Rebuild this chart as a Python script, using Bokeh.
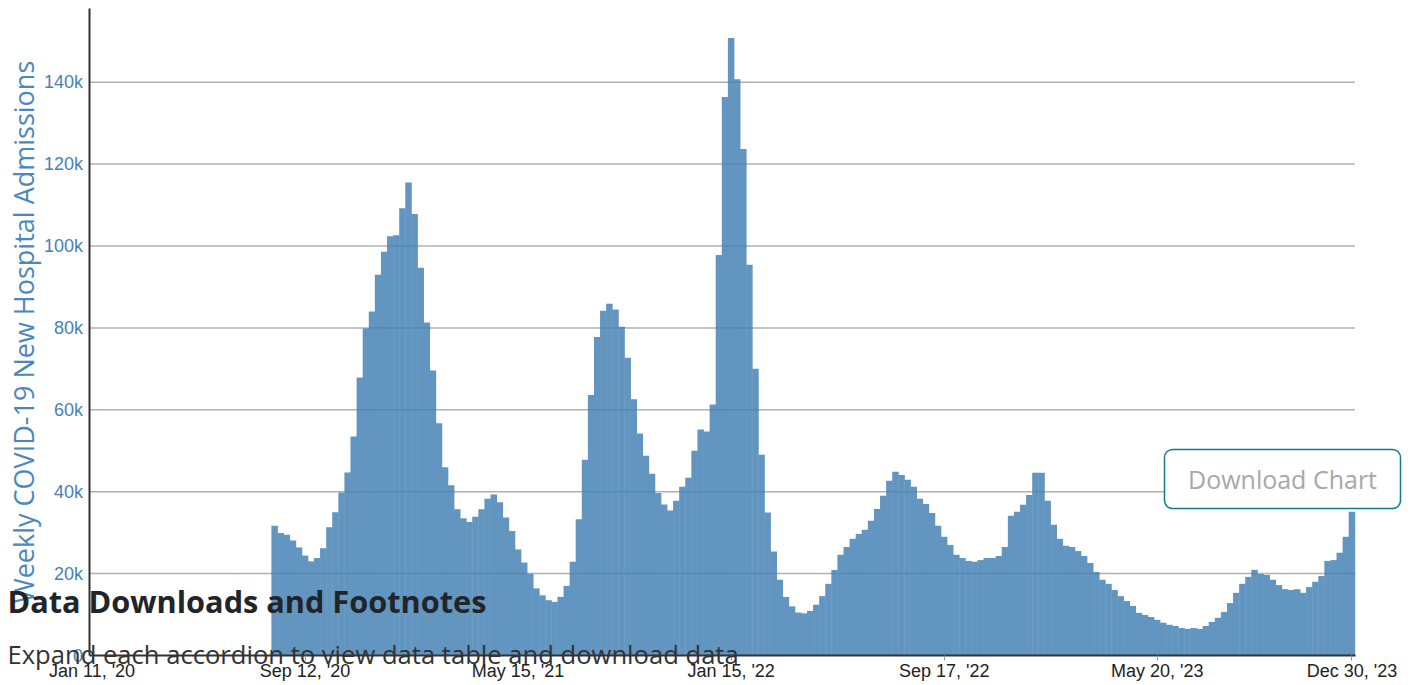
import pandas as pd
from bokeh.plotting import figure
from bokeh.models import (ColumnDataSource, Range1d, FixedTicker, DatetimeTickFormatter,
                          Label, BoxAnnotation)
from bokeh.embed import file_html
from bokeh.resources import INLINE

# ---- data (weekly new hospital admissions, thousands) ----
first_week = "2020-08-08"
last_week = "2023-12-30"
admissions_k = [
    31.7, 29.9, 29.5, 28.1, 26.4, 24.4, 23.0, 23.8, 26.2, 31.3,
    35.0, 39.8, 44.7, 53.5, 67.9, 79.9, 84.0, 93.0, 98.6, 102.4,
    102.6, 109.2, 115.5, 107.8, 94.7, 81.3, 69.6, 56.7, 46.0, 41.6,
    35.7, 33.5, 32.6, 33.9, 35.7, 38.3, 39.3, 37.4, 33.7, 30.4,
    25.9, 22.7, 20.0, 16.4, 14.7, 13.5, 13.1, 14.3, 17.0, 22.9,
    33.3, 47.8, 63.6, 77.8, 84.2, 85.9, 84.5, 80.3, 72.7, 62.6,
    54.2, 48.8, 44.4, 39.7, 36.9, 35.4, 37.8, 41.2, 43.4, 50.0,
    55.2, 54.7, 61.3, 97.8, 136.4, 150.8, 140.7, 123.7, 95.4, 70.0,
    49.0, 34.9, 25.4, 18.5, 14.3, 12.0, 10.5, 10.3, 10.9, 12.4,
    14.5, 17.5, 20.9, 24.6, 26.5, 28.5, 29.7, 30.7, 32.9, 35.8,
    39.0, 42.7, 44.9, 44.1, 42.9, 41.2, 38.3, 37.0, 34.8, 31.7,
    29.0, 27.0, 24.6, 23.8, 23.1, 22.9, 23.3, 23.8, 23.8, 24.3,
    26.5, 34.1, 35.1, 36.8, 39.2, 44.6, 44.6, 37.8, 31.9, 28.5,
    26.8, 26.5, 25.5, 24.3, 22.6, 20.4, 18.5, 17.5, 16.0, 14.5,
    13.3, 12.1, 10.4, 9.9, 9.4, 8.7, 8.0, 7.5, 7.2, 6.7,
    6.5, 6.7, 6.5, 7.2, 8.2, 9.2, 10.6, 12.8, 15.3, 17.5,
    19.2, 20.9, 19.9, 19.7, 18.5, 17.2, 16.2, 16.0, 16.2, 15.3,
    16.7, 18.0, 19.4, 23.1, 23.3, 25.1, 29.0, 35.1,
]
axis_start = "2020-01-11"
axis_end = "2023-12-30"
tick_dates = ["2020-01-11", "2020-09-12", "2021-05-15", "2022-01-15",
              "2022-09-17", "2023-05-20", "2023-12-30"]
y_ticks = [0, 20000, 40000, 60000, 80000, 100000, 120000, 140000]
y_tick_labels = ["0", "20k", "40k", "60k", "80k", "100k", "120k", "140k"]
y_max = 158000
y_title = "Weekly COVID-19 New Hospital Admissions"

week_ending = pd.date_range(first_week, last_week, freq="7D")
admissions = [v * 1000 for v in admissions_k]
source = ColumnDataSource(dict(week=week_ending, admissions=admissions))

# ---- layout: the frame spans the whole canvas, axes are pinned inside it ----
W, H = 1406, 684
plot_left, plot_right, plot_top, plot_bottom = 88.5, 1354.5, 8.0, 655.0

ms_day = 24 * 3600 * 1000
x_lo = pd.Timestamp(axis_start).value / 1e6 - 3.5 * ms_day
x_hi = pd.Timestamp(axis_end).value / 1e6 + 3.5 * ms_day
ms_per_px = (x_hi - x_lo) / (plot_right - plot_left)
val_per_px = y_max / (plot_bottom - plot_top)

p = figure(width=W, height=H, x_axis_type="datetime",
           output_backend="svg", toolbar_location=None,
           x_range=Range1d(x_lo - plot_left * ms_per_px,
                           x_hi + (W - plot_right) * ms_per_px),
           y_range=Range1d(-(H - plot_bottom) * val_per_px,
                           y_max + plot_top * val_per_px),
           min_border=0, min_border_left=0, min_border_right=0,
           min_border_top=0, min_border_bottom=0)
p.outline_line_color = None
p.background_fill_color = "white"
p.border_fill_color = "white"
p.xgrid.visible = False
p.ygrid.visible = False

bar_color = "#6295bf"          # steelblue at 85% on white
grid_color = "#b0b0b0"
grid_in_bar_color = "#5689b3"  # grid line seen through a bar

# horizontal grid lines across the plot area
grid_y = y_ticks[1:]
p.segment(x0=[x_lo] * len(grid_y), x1=[x_hi] * len(grid_y), y0=grid_y, y1=grid_y,
          line_color=grid_color, line_width=1.5, level="underlay")

# bars (slightly widened so that neighbours touch without seams)
p.vbar(x="week", top="admissions", width=7.5 * ms_day, source=source,
       fill_color=bar_color, line_color=None)

# grid lines showing through the bars
half = pd.Timedelta(days=3.5)
gx0, gx1, gy = [], [], []
for wk, val in zip(week_ending, admissions):
    for g in grid_y:
        if val > g:
            gx0.append(wk - half)
            gx1.append(wk + half)
            gy.append(g)
p.segment(x0=gx0, x1=gx1, y0=gy, y1=gy, line_color=grid_in_bar_color, line_width=1.5)

# x axis
tick_ms = [pd.Timestamp(d).value // 10**6 for d in tick_dates]
xa = p.xaxis[0]
xa.fixed_location = 0
xa.bounds = (x_lo, x_hi)
xa.ticker = FixedTicker(ticks=tick_ms)
fmt = "%b %d, '%y"
xa.formatter = DatetimeTickFormatter(
    microseconds=fmt, milliseconds=fmt, seconds=fmt, minsec=fmt, minutes=fmt,
    hourmin=fmt, hours=fmt, days=fmt, months=fmt, years=fmt)
xa.axis_line_color = "#333333"
xa.axis_line_width = 2
xa.major_tick_line_color = "#999999"
xa.major_tick_out = 5
xa.major_tick_in = 0
xa.minor_tick_line_color = None
xa.major_label_standoff = 0
xa.major_label_text_font = "Liberation Sans"
xa.major_label_text_font_size = "18px"
xa.major_label_text_color = "#222222"

# y axis
ya = p.yaxis[0]
ya.fixed_location = x_lo
ya.bounds = (0, y_max)
ya.ticker = FixedTicker(ticks=y_ticks)
ya.major_label_overrides = {t: l for t, l in zip(y_ticks, y_tick_labels)}
ya.axis_line_color = "#333333"
ya.axis_line_width = 2
ya.major_tick_out = 0
ya.major_tick_in = 0
ya.minor_tick_line_color = None
ya.major_label_standoff = 6
ya.major_label_text_font = "Liberation Sans"
ya.major_label_text_font_size = "18px"
ya.major_label_text_color = "#4682b4"
ya.axis_label = y_title
ya.axis_label_text_font = "Open Sans"
ya.axis_label_text_font_style = "normal"
ya.axis_label_text_font_size = "27px"
ya.axis_label_text_color = "#4a87c0"
ya.axis_label_standoff = -1

# page elements overlapping the chart (screen units, from bottom-left)
p.add_layout(Label(x=7, y=H - 600, x_units="screen", y_units="screen",
                   text="Data Downloads and Footnotes", text_font="Open Sans",
                   text_font_style="bold", text_font_size="30.7px",
                   text_baseline="alphabetic",
                   text_color="#212529", level="overlay"))
p.add_layout(Label(x=7, y=H - 654, x_units="screen", y_units="screen",
                   text="Expand each accordion to view data table and download data",
                   text_font="Open Sans", text_font_size="25.6px",
                   text_baseline="alphabetic",
                   text_color="#333333", level="overlay"))
p.add_layout(BoxAnnotation(left=1164, right=1400, top=H - 449, bottom=H - 508,
                           left_units="screen", right_units="screen",
                           top_units="screen", bottom_units="screen",
                           fill_color="white", fill_alpha=1.0,
                           line_color="#127c8c", line_alpha=1.0, line_width=1.5,
                           border_radius=8, level="overlay"))
p.add_layout(Label(x=1282, y=H - 478, x_units="screen", y_units="screen",
                   text="Download Chart", text_font="Open Sans",
                   text_font_size="25px", text_color="#a8a8a8",
                   text_align="center", text_baseline="middle",
                   level="overlay"))

open("out.html", "w").write(file_html(p, INLINE))
